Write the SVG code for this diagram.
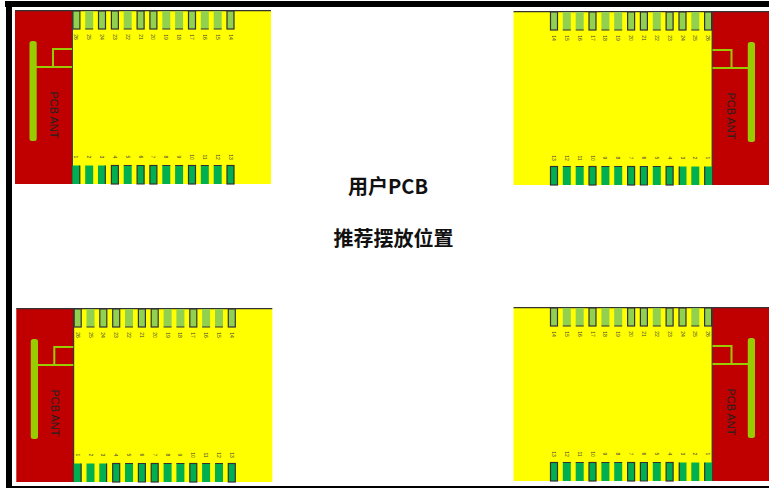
<svg xmlns="http://www.w3.org/2000/svg" width="769" height="488" viewBox="0 0 769 488">
<style>
.red{fill:#c00000}.yel{fill:#ff0}.ant{fill:#9c0}.loop{fill:none;stroke:#9c0;stroke-width:2}
.top{fill:#92d050}.bot{fill:#00b050}.o{stroke:#333;stroke-width:1.2}.edge{stroke:#333;stroke-width:1.2;fill:none}
.t{font:5px "Liberation Sans",sans-serif;fill:#444;text-anchor:middle;dominant-baseline:central}
.a{font:11px "Liberation Sans",sans-serif;fill:#222;text-anchor:middle;dominant-baseline:central}
.c{font:bold 20px "Noto Sans CJK SC",sans-serif;fill:#111;text-anchor:middle}
</style>
<defs>
<g id="module">
<rect class="yel" x="72" y="10.5" width="199" height="173.5"/>
<rect class="red" x="15" y="10.5" width="57.3" height="173.5"/>
<path class="edge" d="M15 10.7H271M72.3 11V184"/>
<rect class="ant" x="29.5" y="41" width="7.2" height="100" rx="2.5"/>
<path class="loop" d="M36 67H72M72 49H53V67"/>
<g class="top">
<rect class="o" x="72.9" y="11" width="7" height="18"/><rect x="85.2" y="11" width="8" height="18"/><rect class="o" x="98.5" y="11" width="7" height="18"/><rect class="o" x="111.4" y="11" width="7" height="18"/><rect x="123.7" y="11" width="8" height="18"/><rect class="o" x="137.1" y="11" width="7" height="18"/><rect class="o" x="149.9" y="11" width="7" height="18"/><rect x="162.3" y="11" width="8" height="18"/><rect x="175.1" y="11" width="8" height="18"/><rect class="o" x="188.5" y="11" width="7" height="18"/><rect x="200.8" y="11" width="8" height="18"/><rect x="213.7" y="11" width="8" height="18"/><rect class="o" x="227" y="11" width="7" height="18"/>
</g>
<path class="edge" d="M85.2 29h8M123.7 29h8M162.3 29h8M175.1 29h8M200.8 29h8M213.7 29h8"/>
<g class="bot">
<rect x="72.5" y="165.5" width="7.5" height="18.5"/><rect x="85.2" y="165.5" width="8" height="18.5"/><rect x="98" y="165.5" width="7.5" height="18.5"/><rect class="o" x="111.4" y="165.5" width="7" height="18.5"/><rect x="123.7" y="165.5" width="8" height="18.5"/><rect x="137.1" y="165.5" width="7" height="18.5"/><rect class="o" x="149.9" y="165.5" width="7" height="18.5"/><rect x="162.3" y="165.5" width="8" height="18.5"/><rect x="175.1" y="165.5" width="8" height="18.5"/><rect class="o" x="188.5" y="165.5" width="7" height="18.5"/><rect x="200.8" y="165.5" width="8" height="18.5"/><rect x="213.7" y="165.5" width="8" height="18.5"/><rect class="o" x="227" y="165.5" width="7" height="18.5"/>
</g>
<path class="edge" d="M79.8 165.5V184M105.3 165.5V184M123.7 165.5h8M137.1 165.5V184h7V165.5zM162.3 165.5h8M175.1 165.5h8M200.8 165.5h8M213.7 165.5h8"/>
</g>
</defs>
<rect width="769" height="488" fill="#fff"/>
<path fill="#000" d="M5 1H769V7H12V486H769V488H6V7H5Z"/>
<g id="module-top-left">
<use href="#module"/>
<text class="a" transform="translate(53.5 115) rotate(90)">PCB ANT</text>
<g>
<text class="t" transform="translate(76.3 37) rotate(90)">26</text><text class="t" transform="translate(89.2 37) rotate(90)">25</text><text class="t" transform="translate(102 37) rotate(90)">24</text><text class="t" transform="translate(114.9 37) rotate(90)">23</text><text class="t" transform="translate(127.7 37) rotate(90)">22</text><text class="t" transform="translate(140.6 37) rotate(90)">21</text><text class="t" transform="translate(153.4 37) rotate(90)">20</text><text class="t" transform="translate(166.3 37) rotate(90)">19</text><text class="t" transform="translate(179.1 37) rotate(90)">18</text><text class="t" transform="translate(192 37) rotate(90)">17</text><text class="t" transform="translate(204.8 37) rotate(90)">16</text><text class="t" transform="translate(217.7 37) rotate(90)">15</text><text class="t" transform="translate(230.5 37) rotate(90)">14</text>
<text class="t" transform="translate(76.3 157) rotate(90)">1</text><text class="t" transform="translate(89.2 157) rotate(90)">2</text><text class="t" transform="translate(102 157) rotate(90)">3</text><text class="t" transform="translate(114.9 157) rotate(90)">4</text><text class="t" transform="translate(127.7 157) rotate(90)">5</text><text class="t" transform="translate(140.6 157) rotate(90)">6</text><text class="t" transform="translate(153.4 157) rotate(90)">7</text><text class="t" transform="translate(166.3 157) rotate(90)">8</text><text class="t" transform="translate(179.1 157) rotate(90)">9</text><text class="t" transform="translate(192 157) rotate(90)">10</text><text class="t" transform="translate(204.8 157) rotate(90)">11</text><text class="t" transform="translate(217.7 157) rotate(90)">12</text><text class="t" transform="translate(230.5 157) rotate(90)">13</text>
</g>
</g>
<g id="module-bottom-left">
<use href="#module" transform="translate(1.3 298)"/>
<text class="a" transform="translate(55 413) rotate(90)">PCB ANT</text>
<g transform="translate(1.3 298)">
<text class="t" transform="translate(76.3 37) rotate(90)">26</text><text class="t" transform="translate(89.2 37) rotate(90)">25</text><text class="t" transform="translate(102 37) rotate(90)">24</text><text class="t" transform="translate(114.9 37) rotate(90)">23</text><text class="t" transform="translate(127.7 37) rotate(90)">22</text><text class="t" transform="translate(140.6 37) rotate(90)">21</text><text class="t" transform="translate(153.4 37) rotate(90)">20</text><text class="t" transform="translate(166.3 37) rotate(90)">19</text><text class="t" transform="translate(179.1 37) rotate(90)">18</text><text class="t" transform="translate(192 37) rotate(90)">17</text><text class="t" transform="translate(204.8 37) rotate(90)">16</text><text class="t" transform="translate(217.7 37) rotate(90)">15</text><text class="t" transform="translate(230.5 37) rotate(90)">14</text>
<text class="t" transform="translate(76.3 157) rotate(90)">1</text><text class="t" transform="translate(89.2 157) rotate(90)">2</text><text class="t" transform="translate(102 157) rotate(90)">3</text><text class="t" transform="translate(114.9 157) rotate(90)">4</text><text class="t" transform="translate(127.7 157) rotate(90)">5</text><text class="t" transform="translate(140.6 157) rotate(90)">6</text><text class="t" transform="translate(153.4 157) rotate(90)">7</text><text class="t" transform="translate(166.3 157) rotate(90)">8</text><text class="t" transform="translate(179.1 157) rotate(90)">9</text><text class="t" transform="translate(192 157) rotate(90)">10</text><text class="t" transform="translate(204.8 157) rotate(90)">11</text><text class="t" transform="translate(217.7 157) rotate(90)">12</text><text class="t" transform="translate(230.5 157) rotate(90)">13</text>
</g>
</g>
<g id="module-top-right">
<use href="#module" transform="translate(784.5 1) scale(-1 1)"/>
<text class="a" transform="translate(731 116) rotate(90)">PCB ANT</text>
<g transform="translate(0 1)">
<text class="t" transform="translate(708.2 37) rotate(90)">26</text><text class="t" transform="translate(695.3 37) rotate(90)">25</text><text class="t" transform="translate(682.5 37) rotate(90)">24</text><text class="t" transform="translate(669.6 37) rotate(90)">23</text><text class="t" transform="translate(656.8 37) rotate(90)">22</text><text class="t" transform="translate(643.9 37) rotate(90)">21</text><text class="t" transform="translate(631.1 37) rotate(90)">20</text><text class="t" transform="translate(618.2 37) rotate(90)">19</text><text class="t" transform="translate(605.4 37) rotate(90)">18</text><text class="t" transform="translate(592.5 37) rotate(90)">17</text><text class="t" transform="translate(579.7 37) rotate(90)">16</text><text class="t" transform="translate(566.8 37) rotate(90)">15</text><text class="t" transform="translate(554 37) rotate(90)">14</text>
<text class="t" transform="translate(708.2 157) rotate(90)">1</text><text class="t" transform="translate(695.3 157) rotate(90)">2</text><text class="t" transform="translate(682.5 157) rotate(90)">3</text><text class="t" transform="translate(669.6 157) rotate(90)">4</text><text class="t" transform="translate(656.8 157) rotate(90)">5</text><text class="t" transform="translate(643.9 157) rotate(90)">6</text><text class="t" transform="translate(631.1 157) rotate(90)">7</text><text class="t" transform="translate(618.2 157) rotate(90)">8</text><text class="t" transform="translate(605.4 157) rotate(90)">9</text><text class="t" transform="translate(592.5 157) rotate(90)">10</text><text class="t" transform="translate(579.7 157) rotate(90)">11</text><text class="t" transform="translate(566.8 157) rotate(90)">12</text><text class="t" transform="translate(554 157) rotate(90)">13</text>
</g>
</g>
<g id="module-bottom-right">
<use href="#module" transform="translate(784.5 297) scale(-1 1)"/>
<text class="a" transform="translate(731 412) rotate(90)">PCB ANT</text>
<g transform="translate(0 297)">
<text class="t" transform="translate(708.2 37) rotate(90)">26</text><text class="t" transform="translate(695.3 37) rotate(90)">25</text><text class="t" transform="translate(682.5 37) rotate(90)">24</text><text class="t" transform="translate(669.6 37) rotate(90)">23</text><text class="t" transform="translate(656.8 37) rotate(90)">22</text><text class="t" transform="translate(643.9 37) rotate(90)">21</text><text class="t" transform="translate(631.1 37) rotate(90)">20</text><text class="t" transform="translate(618.2 37) rotate(90)">19</text><text class="t" transform="translate(605.4 37) rotate(90)">18</text><text class="t" transform="translate(592.5 37) rotate(90)">17</text><text class="t" transform="translate(579.7 37) rotate(90)">16</text><text class="t" transform="translate(566.8 37) rotate(90)">15</text><text class="t" transform="translate(554 37) rotate(90)">14</text>
<text class="t" transform="translate(708.2 157) rotate(90)">1</text><text class="t" transform="translate(695.3 157) rotate(90)">2</text><text class="t" transform="translate(682.5 157) rotate(90)">3</text><text class="t" transform="translate(669.6 157) rotate(90)">4</text><text class="t" transform="translate(656.8 157) rotate(90)">5</text><text class="t" transform="translate(643.9 157) rotate(90)">6</text><text class="t" transform="translate(631.1 157) rotate(90)">7</text><text class="t" transform="translate(618.2 157) rotate(90)">8</text><text class="t" transform="translate(605.4 157) rotate(90)">9</text><text class="t" transform="translate(592.5 157) rotate(90)">10</text><text class="t" transform="translate(579.7 157) rotate(90)">11</text><text class="t" transform="translate(566.8 157) rotate(90)">12</text><text class="t" transform="translate(554 157) rotate(90)">13</text>
</g>
</g>
<g id="caption">
<text class="c" x="388" y="194">用户PCB</text>
<text class="c" x="393.5" y="246">推荐摆放位置</text>
</g>
</svg>
